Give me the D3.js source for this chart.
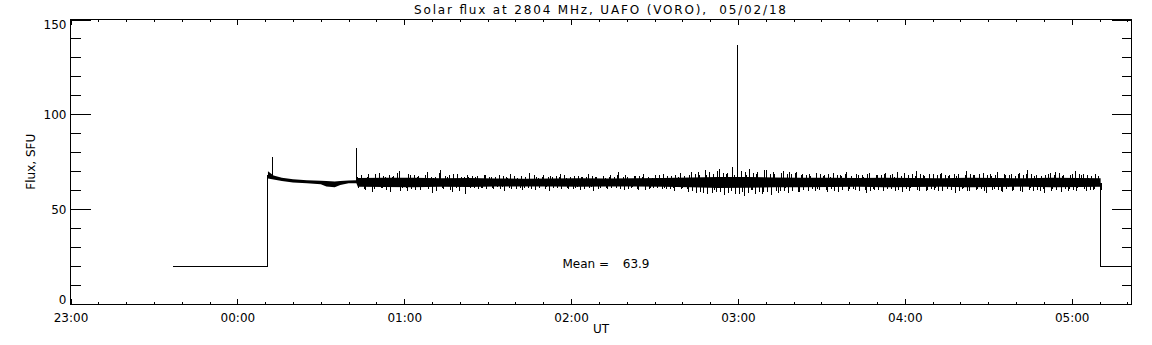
<!DOCTYPE html>
<html>
<head>
<meta charset="utf-8">
<script src="https://cdn.jsdelivr.net/npm/d3@7"></script>
<style>
  body { margin: 0; background: #fff; }
  svg text { font-family: "DejaVu Sans", sans-serif; font-size: 12px; fill: #000; }
  .axis path.domain { display: none; }
  .axis line { stroke: #000; shape-rendering: crispEdges; }
</style>
</head>
<body>
<div id="chart"></div>
<script>

// ---- data (minutes after 23:00 UT, flux in SFU) ----
var titleText = "Solar flux at 2804 MHz, UAFO (VORO),  05/02/18";
var meanValue = 63.9;

var hourTicks = [0, 60, 120, 180, 240, 300, 360];
var hourLabels = ["23:00", "00:00", "01:00", "02:00", "03:00", "04:00", "05:00"];
var fluxTicks = [0, 50, 100, 150];

// off-sun level before the antenna was pointed
var preTime = [36.9, 71.0, 71.0];
var preFlux = [20, 20, 68];

// off-sun level after tracking stopped
var postTime = [370.4, 370.4, 381.5];
var postFlux = [63.5, 20, 20];

// dense core of the record
var coreTime = [71.0, 73, 76, 80, 85, 90, 92, 95, 97, 100, 102.8, 103.3, 113, 123, 133, 143, 153, 163, 173, 183, 193, 203, 213, 223, 233, 243, 253, 263, 273, 283, 293, 303, 313, 323, 333, 343, 353, 363, 370.4];
var coreLo = [66.2, 65.6, 64.8, 64.0, 63.6, 63.2, 62.0, 61.6, 62.8, 63.6, 63.6, 61.8, 61.7, 61.6, 61.8, 61.7, 62.0, 61.9, 62.0, 61.8, 62.0, 61.9, 61.8, 61.5, 61.2, 61.3, 61.5, 61.6, 61.7, 61.8, 61.6, 61.7, 61.8, 61.6, 61.7, 61.8, 61.6, 61.7, 61.8];
var coreHi = [70.0, 67.8, 66.5, 65.8, 65.3, 65.0, 64.8, 64.6, 64.8, 65.1, 65.2, 66.4, 66.5, 66.6, 66.3, 66.4, 66.2, 66.1, 66.2, 66.3, 66.2, 66.3, 66.4, 66.7, 67.0, 66.9, 66.7, 66.5, 66.5, 66.4, 66.5, 66.4, 66.3, 66.5, 66.4, 66.3, 66.5, 66.4, 66.3];

// noisy part: mean level and extreme readings, one per minute in each set
var noiseLevel = 64;
var noiseStep = 1;
var noiseStartA = 103.2;
var noiseFluxA = [
  67.2, 62.5, 65.8, 59.9, 68.4, 66.1, 60.7, 63.0, 69.1, 61.4,
  66.9, 64.2, 58.8, 67.7, 62.9, 70.3, 61.0, 65.5, 59.6, 68.0,
  63.8, 60.3, 67.4, 66.0, 61.6, 69.4, 62.2, 58.5, 66.8, 64.9,
  70.6, 60.8, 63.6, 67.9, 59.2, 65.7, 68.5, 61.9, 62.8, 58.1,
  66.9, 62.3, 60.9, 67.6, 64.5, 61.4, 68.2, 63.1, 66.7, 60.6,
  65.3, 67.8, 61.9, 59.8, 66.2, 68.6, 62.6, 60.7, 64.0, 67.3,
  61.2, 65.9, 68.9, 62.0, 60.2, 66.5, 63.7, 67.9, 61.6, 59.5,
  67.0, 64.4, 61.0, 68.3, 62.8, 66.4, 60.4, 65.2, 67.5, 61.8,
  60.3, 66.8, 63.2, 68.7, 61.5, 59.7, 67.2, 64.8, 62.1, 66.6,
  60.8, 68.0, 63.5, 61.2, 69.8, 62.4, 60.1, 67.1, 65.0, 61.7,
  67.7, 59.9, 64.1, 68.4, 62.7, 60.6, 66.3, 67.9, 61.3, 63.9,
  68.6, 60.5, 65.6, 67.4, 59.4, 62.9, 69.2, 61.1, 66.0, 59.0,
  69.6, 62.4, 58.6, 67.8, 64.3, 70.9, 57.9, 63.5, 68.7, 59.2,
  71.4, 61.8, 57.4, 69.3, 65.1, 72.3, 58.2, 62.7, 70.2, 56.7,
  68.1, 71.0, 60.3, 57.8, 69.8, 64.6, 58.9, 70.6, 62.0, 57.5,
  68.8, 65.9, 59.6, 70.1, 61.4, 58.4, 68.3, 63.2, 69.4, 58.9,
  68.4, 61.9, 59.5, 67.7, 64.7, 69.2, 60.3, 62.6, 68.0, 59.3,
  66.9, 69.3, 61.5, 58.9, 67.5, 63.4, 69.6, 60.6, 65.8, 59.9,
  68.1, 62.2, 66.7, 58.6, 69.0, 64.9, 60.2, 67.8, 61.6, 59.7,
  68.9, 63.3, 60.5, 67.2, 69.5, 62.0, 58.8, 66.4, 68.2, 60.9,
  64.1, 69.9, 59.4, 62.8, 67.6, 60.1, 65.4, 68.8, 61.2, 59.6,
  69.3, 63.0, 60.7, 67.9, 62.5, 58.7, 68.5, 65.2, 61.1, 70.2,
  59.8, 63.8, 68.0, 60.4, 66.6, 69.1, 58.4, 62.4, 67.4, 60.8,
  69.7, 64.4, 59.1, 67.8, 61.7, 68.6, 60.2, 63.6, 69.2, 58.9,
  65.7, 70.4, 61.3, 59.6, 68.1, 62.9, 67.3, 58.6, 64.8, 68.9,
  60.4, 69.4, 62.3, 59.3, 67.9, 65.3, 60.6, 68.7, 70.0, 61.0,
  63.1, 68.3, 59.8, 66.2, 67.7, 60.7, 64.6, 59.9
];
var noiseStartB = 103.7;
var noiseFluxB = [
  61.2, 67.9, 60.4, 66.8, 62.1, 59.3, 68.7, 66.5, 60.9, 67.3,
  60.2, 68.1, 66.7, 61.5, 69.0, 59.8, 66.6, 61.3, 68.4, 60.7,
  67.8, 66.9, 60.1, 61.7, 68.2, 60.5, 67.1, 66.4, 59.7, 68.9,
  61.0, 67.5, 66.8, 60.3, 68.6, 61.4, 59.4, 67.2, 66.9, 68.0,
  61.1, 67.4, 66.8, 60.7, 61.3, 67.9, 60.5, 67.1, 60.9, 66.7,
  61.6, 60.4, 67.7, 66.9, 61.2, 60.8, 67.5, 66.6, 61.4, 60.3,
  67.2, 61.0, 60.6, 67.8, 66.9, 61.3, 67.0, 60.7, 66.8, 67.6,
  60.9, 67.3, 66.7, 60.5, 67.9, 61.1, 66.9, 60.6, 61.2, 67.4,
  67.1, 60.8, 66.7, 61.0, 67.7, 66.8, 60.4, 61.3, 67.5, 60.9,
  67.2, 61.2, 66.9, 67.8, 60.6, 66.7, 68.1, 60.8, 61.1, 67.3,
  60.7, 67.6, 66.8, 60.3, 67.0, 61.4, 60.9, 66.6, 67.9, 60.5,
  61.0, 67.4, 60.6, 61.2, 67.8, 66.9, 60.4, 67.5, 60.8, 67.9,
  59.4, 68.6, 69.8, 59.1, 58.7, 67.9, 69.4, 58.5, 60.2, 70.3,
  58.9, 69.1, 68.7, 58.3, 59.6, 68.2, 69.9, 57.8, 59.2, 69.5,
  58.6, 60.1, 69.2, 68.8, 59.0, 58.2, 70.4, 59.3, 68.5, 69.7,
  59.5, 58.4, 69.0, 59.8, 68.3, 69.6, 59.7, 68.9, 58.8, 68.1,
  60.1, 67.8, 68.5, 60.4, 59.5, 60.7, 68.3, 67.6, 59.9, 68.7,
  60.5, 59.7, 68.1, 67.9, 60.2, 68.4, 59.6, 67.7, 60.8, 68.6,
  59.8, 68.0, 60.3, 68.8, 59.4, 60.6, 68.2, 59.9, 67.8, 68.5,
  60.4, 67.9, 68.6, 59.7, 60.1, 67.7, 68.9, 60.5, 59.8, 68.3,
  67.6, 60.2, 68.4, 67.8, 59.5, 68.7, 60.6, 59.9, 67.9, 68.5,
  59.6, 68.2, 67.7, 60.3, 68.6, 67.5, 59.8, 60.4, 68.0, 59.7,
  68.3, 67.8, 59.9, 68.7, 60.5, 59.6, 67.9, 68.4, 60.2, 68.1,
  60.0, 59.7, 68.5, 60.4, 68.2, 59.8, 67.6, 68.8, 59.5, 67.9,
  68.3, 59.9, 68.6, 67.7, 60.3, 59.6, 60.7, 67.8, 68.4, 59.8,
  67.9, 60.1, 68.9, 67.5, 60.5, 59.4, 68.1, 60.2, 59.7, 68.6,
  68.0, 60.6, 67.8, 59.9, 60.3, 68.4, 67.6, 60.1
];

// short bursts
var spikeTime = [72.5, 102.8, 239.7];
var spikeBase = [68, 64, 64];
var spikeTop = [77.5, 82.2, 136.3];


/*
 * FluxChart - draws the radio flux record
 */

FluxChart = function(_parentElement){
    this.parentElement = _parentElement;
    this.initVis();
}

FluxChart.prototype.initVis = function(){
    var vis = this;
    vis.margin = {top: 19.5, right: 20.5, bottom: 41, left: 70.5};
    vis.width = 1152 - vis.margin.left - vis.margin.right;
    vis.height = 345 - vis.margin.top - vis.margin.bottom;

    vis.svg = d3.select("#" + vis.parentElement).append("svg")
        .attr("width", 1152)
        .attr("height", 345)
        .append("g")
        .attr("transform", "translate(" + vis.margin.left + "," + vis.margin.top + ")");

    vis.x = d3.scaleLinear().domain([0, 381.5]).range([0, vis.width]);
    vis.y = d3.scaleLinear().domain([0, 150]).range([vis.height, 0]);

    vis.wrangleData();
}

FluxChart.prototype.wrangleData = function(){
    var vis = this;

    vis.prePoints = preTime.map((t, i) => [t, preFlux[i]]);
    vis.postPoints = postTime.map((t, i) => [t, postFlux[i]]);
    vis.corePoints = coreTime.map((t, i) => ({t: t, lo: coreLo[i], hi: coreHi[i]}));

    vis.noisePoints = noiseFluxA.map((v, i) => ({t: noiseStartA + i * noiseStep, base: noiseLevel, top: v}))
        .concat(noiseFluxB.map((v, i) => ({t: noiseStartB + i * noiseStep, base: noiseLevel, top: v})));
    vis.spikes = spikeTime.map((t, i) => ({t: t, base: spikeBase[i], top: spikeTop[i]}));

    vis.updateVis();
}

FluxChart.prototype.updateVis = function(){
    var vis = this;

    // axes (ticks point inward, like the original plot)
    var minorX = d3.range(0, 381.5, 10);
    var minorY = d3.range(0, 151, 10);

    vis.svg.append("g").attr("class", "axis")
        .attr("transform", "translate(0," + vis.height + ")")
        .call(d3.axisBottom(vis.x).tickValues(minorX).tickSize(-2.5).tickFormat(""));
    vis.svg.append("g").attr("class", "axis x-axis")
        .attr("transform", "translate(0," + vis.height + ")")
        .call(d3.axisBottom(vis.x).tickValues(hourTicks).tickSize(-5).tickPadding(9)
            .tickFormat((d, i) => hourLabels[i]));
    vis.svg.append("g").attr("class", "axis")
        .call(d3.axisTop(vis.x).tickValues(minorX).tickSize(-2.5).tickFormat(""));
    vis.svg.append("g").attr("class", "axis")
        .call(d3.axisTop(vis.x).tickValues(hourTicks).tickSize(-5.5).tickFormat(""));

    vis.svg.append("g").attr("class", "axis")
        .call(d3.axisLeft(vis.y).tickValues(minorY).tickSize(-10).tickFormat(""));
    vis.svg.append("g").attr("class", "axis y-axis")
        .call(d3.axisLeft(vis.y).tickValues(fluxTicks).tickSize(-20).tickPadding(4));
    vis.svg.append("g").attr("class", "axis")
        .attr("transform", "translate(" + vis.width + ",0)")
        .call(d3.axisRight(vis.y).tickValues(minorY).tickSize(-10).tickFormat(""));
    vis.svg.append("g").attr("class", "axis")
        .attr("transform", "translate(" + vis.width + ",0)")
        .call(d3.axisRight(vis.y).tickValues(fluxTicks).tickSize(-20).tickFormat(""));

    vis.svg.selectAll(".axis text").attr("font-size", 12).attr("font-family", null);

    // keep end labels inside the frame height, as IDL does
    vis.svg.selectAll(".y-axis .tick text")
        .attr("dy", d => d == 0 ? "-0.05em" : (d == 150 ? "0.72em" : "0.36em"));

    // frame
    vis.svg.append("rect")
        .attr("width", vis.width)
        .attr("height", vis.height)
        .attr("fill", "none")
        .attr("stroke", "#000")
        .attr("shape-rendering", "crispEdges");

    // data
    var line = d3.line().x(d => vis.x(d[0])).y(d => vis.y(d[1]));
    var band = d3.area()
        .x(d => vis.x(d.t))
        .y0(d => vis.y(d.lo))
        .y1(d => vis.y(d.hi));

    vis.svg.append("path")
        .datum(vis.corePoints)
        .attr("d", band)
        .attr("fill", "#000");

    vis.svg.selectAll(".flux-line")
        .data([vis.prePoints, vis.postPoints])
        .enter().append("path")
        .attr("class", "flux-line")
        .attr("d", line)
        .attr("fill", "none")
        .attr("stroke", "#000")
        .attr("stroke-width", 1)
        .attr("shape-rendering", "crispEdges");

    // every reading as a thin vertical stroke from the mean level
    vis.svg.selectAll(".spike")
        .data(vis.noisePoints.concat(vis.spikes))
        .enter().append("line")
        .attr("class", "spike")
        .attr("x1", d => vis.x(d.t))
        .attr("x2", d => vis.x(d.t))
        .attr("y1", d => vis.y(d.base))
        .attr("y2", d => vis.y(d.top))
        .attr("stroke", "#000")
        .attr("shape-rendering", "crispEdges");

    // titles
    vis.svg.append("text")
        .attr("x", 600 - vis.margin.left)
        .attr("y", 13.5 - vis.margin.top)
        .attr("text-anchor", "middle")
        .attr("textLength", 372)
        .attr("lengthAdjust", "spacing")
        .style("white-space", "pre")
        .text(titleText);

    vis.svg.append("text")
        .attr("x", 601 - vis.margin.left)
        .attr("y", vis.height + 28.5)
        .attr("text-anchor", "middle")
        .text("UT");

    vis.svg.append("text")
        .attr("transform", "translate(" + (35 - vis.margin.left) + "," + (vis.height / 2) + ") rotate(-90)")
        .attr("text-anchor", "middle")
        .text("Flux, SFU");

    vis.svg.append("text")
        .attr("x", 562.5 - vis.margin.left)
        .attr("y", 267.5 - vis.margin.top)
        .text("Mean =");
    vis.svg.append("text")
        .attr("x", 649.5 - vis.margin.left)
        .attr("y", 267.5 - vis.margin.top)
        .attr("text-anchor", "end")
        .text(d3.format(".1f")(meanValue));
}

new FluxChart("chart");
</script>
</body>
</html>
